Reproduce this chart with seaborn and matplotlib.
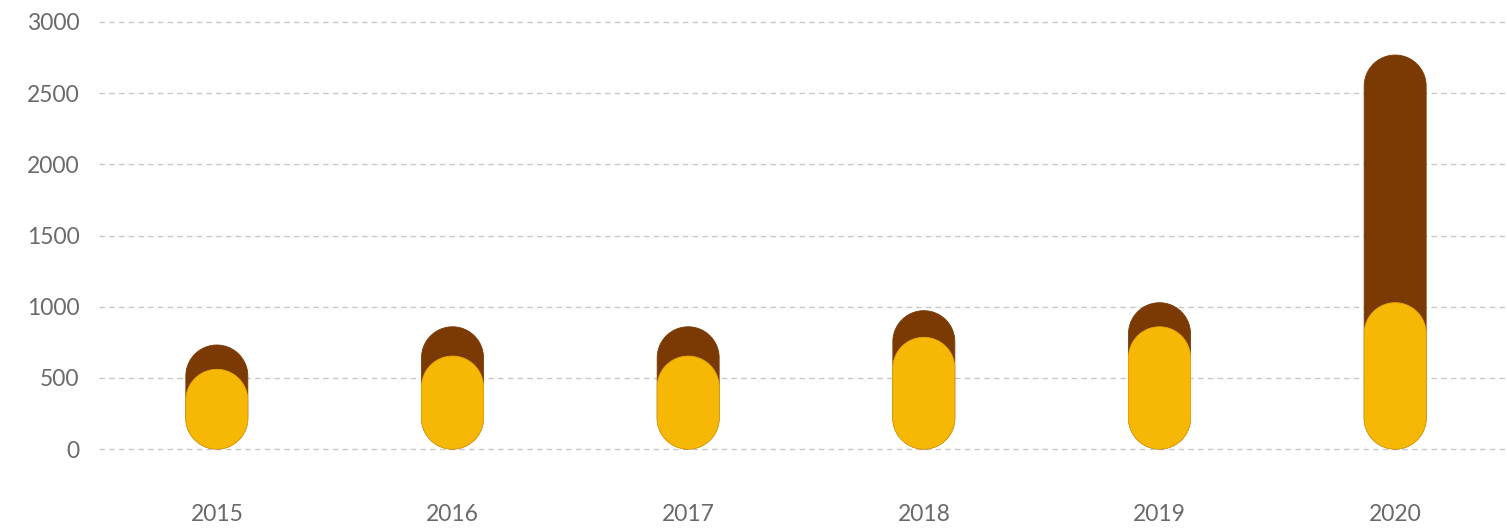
import matplotlib
matplotlib.use("Agg")
import matplotlib.pyplot as plt
from matplotlib.patches import Polygon
from matplotlib.transforms import IdentityTransform
import numpy as np
import seaborn as sns
import pandas as pd

years = ["2015", "2016", "2017", "2018", "2019", "2020"]
series_back = [731, 859, 859, 972, 1028, 2768]
series_front = [560, 653, 653, 785, 859, 1028]
y_ticks = [0, 500, 1000, 1500, 2000, 2500, 3000]

color_back = "#7B3A04"
color_front = "#F6B705"
text_color = "#6a6a6a"

sns.set_theme(style="white")
plt.rcParams["font.family"] = ["Lato", "DejaVu Sans"]

fig = plt.figure(figsize=(15.07, 5.28), dpi=100)
ax = fig.add_axes([99 / 1507, 0.0956, (1513 - 99) / 1507, 0.8897])

df_back = pd.DataFrame({"year": years, "value": series_back})
df_front = pd.DataFrame({"year": years, "value": series_front})

sns.barplot(data=df_back, x="year", y="value", color=color_back, width=0.263,
            ax=ax, saturation=1)
n_back = len(ax.patches)
sns.barplot(data=df_front, x="year", y="value", color=color_front, width=0.263,
            ax=ax, saturation=1)

ax.set_ylim(-200, 3100)
ax.set_xlim(-0.5, len(years) - 0.5)
ax.set_yticks(y_ticks)
ax.set_yticklabels([str(v) for v in y_ticks])
ax.set_xlabel("")
ax.set_ylabel("")
for s in ax.spines.values():
    s.set_visible(False)
ax.tick_params(axis="y", length=0, pad=14, labelsize=16.5, labelcolor=text_color)
ax.tick_params(axis="x", length=0, pad=19, labelsize=16.5, labelcolor=text_color)

for v in y_ticks:
    ax.axhline(v, color="#c8c8c8", lw=1, ls=(0, (4, 3)), zorder=0)

# replace rectangular bars with pill shapes (semicircular caps) in display coords
fig.canvas.draw()
rects = list(ax.patches)
theta_top = np.linspace(0, np.pi, 60)
theta_bot = np.linspace(np.pi, 2 * np.pi, 60)
for i, p in enumerate(rects):
    bb = p.get_window_extent()
    x0, y0, w, h = bb.x0, bb.y0, bb.width, bb.height
    r = w / 2
    cx = x0 + r
    top_c = y0 + h - r
    bot_c = y0 + r
    pts_top = np.column_stack([cx + r * np.cos(theta_top), top_c + r * np.sin(theta_top)])
    pts_bot = np.column_stack([cx + r * np.cos(theta_bot), bot_c + r * np.sin(theta_bot)])
    pts = np.vstack([pts_top, pts_bot])
    is_back = i < n_back
    pill = Polygon(pts, closed=True, transform=IdentityTransform(),
                   facecolor=color_back if is_back else color_front,
                   edgecolor=color_back if is_back else "#EBAA00",
                   lw=0.6, zorder=3 if is_back else 4, clip_on=False)
    ax.add_artist(pill)
    p.set_visible(False)

fig.savefig("out.png", dpi=100)
